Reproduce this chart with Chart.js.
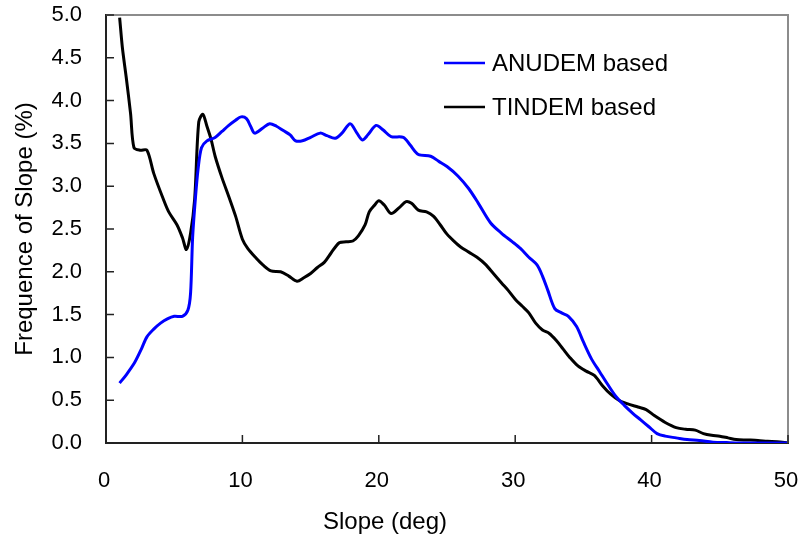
<!DOCTYPE html>
<html lang="en">
<head>
<meta charset="UTF-8">
<title>Slope frequency</title>
<script src="https://cdn.jsdelivr.net/npm/chart.js"></script>
<style>
  html, body { margin: 0; padding: 0; background: #fff; }
  #wrap { width: 798px; height: 537px; }
</style>
</head>
<body>
<div id="wrap"><canvas id="slopeChart" width="798" height="537"></canvas></div>
<script>
// ANUDEM based curve (slope deg, frequency %)
const anudemX = [1.0, 1.5, 2.1, 2.6, 3.0, 3.5, 4.0, 4.5, 5.0, 5.6, 6.0, 6.2, 6.35, 6.55, 6.75, 7.0, 7.4, 8.0, 8.5, 9.0,
  9.5, 9.9, 10.3, 10.6, 10.9, 11.5, 12.0, 12.5, 13.0, 13.5, 13.9, 14.4, 15.0, 15.7, 16.2, 16.8, 17.3, 17.9, 18.4, 18.8,
  19.2, 19.8, 20.3, 20.9, 21.8, 22.3, 22.9, 23.8, 24.4, 25.0, 25.8, 26.6, 27.3, 28.2, 29.0, 29.8, 30.4, 31.0, 31.6, 32.0,
  32.4, 32.9, 33.4, 33.9, 34.5, 35.0, 35.6, 36.2, 36.8, 37.4, 38.0, 38.6, 39.2, 39.8, 40.4, 41.0, 41.8, 42.6, 43.5, 44.5,
  45.5, 47.0, 50.0];
const anudemY = [0.70, 0.80, 0.94, 1.10, 1.24, 1.33, 1.40, 1.45, 1.48, 1.48, 1.55, 1.75, 2.40, 2.85, 3.20, 3.45, 3.53, 3.57, 3.64, 3.71,
  3.77, 3.81, 3.79, 3.70, 3.62, 3.68, 3.73, 3.70, 3.65, 3.60, 3.53, 3.53, 3.57, 3.62, 3.59, 3.56, 3.62, 3.73, 3.62, 3.54,
  3.60, 3.71, 3.66, 3.58, 3.57, 3.48, 3.37, 3.35, 3.29, 3.23, 3.12, 2.97, 2.80, 2.57, 2.45, 2.35, 2.27, 2.17, 2.08, 1.95,
  1.78, 1.57, 1.52, 1.48, 1.36, 1.18, 0.98, 0.83, 0.68, 0.54, 0.44, 0.35, 0.27, 0.19, 0.11, 0.08, 0.06, 0.04, 0.03, 0.01,
  0.005, 0.0, 0.0];

// TINDEM based curve
const tindemX = [1.0, 1.2, 1.5, 1.8, 2.05, 2.5, 3.0, 3.5, 4.2, 4.6, 5.2, 5.6, 5.9, 6.2, 6.5, 6.8, 7.1, 7.4, 7.7, 8.0,
  8.5, 9.0, 9.5, 10.0, 10.4, 11.0, 11.5, 12.1, 12.8, 13.4, 14.0, 14.5, 15.0, 15.5, 16.0, 16.5, 17.1, 17.6, 18.1, 18.5,
  19.0, 19.3, 19.7, 20.0, 20.4, 20.9, 21.5, 22.0, 22.4, 22.9, 23.5, 24.0, 24.5, 25.0, 25.5, 26.0, 26.6, 27.2, 27.8, 28.4,
  29.0, 29.5, 30.0, 30.5, 31.0, 31.5, 32.0, 32.5, 33.0, 33.5, 34.0, 34.6, 35.2, 35.8, 36.4, 37.0, 37.6, 38.2, 39.0, 39.6,
  40.2, 41.0, 41.8, 42.5, 43.2, 43.8, 44.4, 45.0, 45.6, 46.2, 47.0, 47.8, 48.5, 49.2, 50.0];
const tindemY = [4.97, 4.62, 4.25, 3.85, 3.45, 3.42, 3.42, 3.15, 2.85, 2.70, 2.55, 2.40, 2.26, 2.45, 2.85, 3.75, 3.84, 3.70, 3.55, 3.35,
  3.10, 2.88, 2.65, 2.38, 2.27, 2.16, 2.08, 2.01, 2.00, 1.95, 1.89, 1.93, 1.98, 2.05, 2.11, 2.22, 2.34, 2.35, 2.36, 2.42,
  2.55, 2.70, 2.78, 2.83, 2.78, 2.68, 2.75, 2.82, 2.80, 2.72, 2.70, 2.65, 2.55, 2.44, 2.36, 2.29, 2.23, 2.17, 2.09, 1.98,
  1.87, 1.78, 1.68, 1.60, 1.52, 1.40, 1.32, 1.28, 1.20, 1.10, 1.00, 0.90, 0.84, 0.79, 0.67, 0.57, 0.50, 0.46, 0.42, 0.39,
  0.32, 0.24, 0.18, 0.16, 0.15, 0.11, 0.09, 0.08, 0.06, 0.04, 0.035, 0.03, 0.02, 0.015, 0.0];

const xTicks = [0, 10, 20, 30, 40, 50];
const yTicks = [0, 0.5, 1.0, 1.5, 2.0, 2.5, 3.0, 3.5, 4.0, 4.5, 5.0];
const xTitle = 'Slope (deg)';

function toPoints(xs, ys) {
  return xs.map((x, i) => ({ x: x, y: ys[i] }));
}

const FONT = 'Liberation Sans, Arial, sans-serif';

// inward tick marks, grey top/right frame, x title and in-plot legend
const framePlugin = {
  id: 'frame',
  afterDraw(chart) {
    const ctx = chart.ctx;
    const a = chart.chartArea;
    const xs = chart.scales.x, ys = chart.scales.y;
    ctx.save();
    ctx.strokeStyle = '#8c8c8c';
    ctx.lineWidth = 2;
    ctx.beginPath();
    ctx.moveTo(a.left, a.top);
    ctx.lineTo(a.right, a.top);
    ctx.lineTo(a.right, a.bottom);
    ctx.stroke();

    ctx.strokeStyle = '#222';
    ctx.lineWidth = 1.5;
    ctx.beginPath();
    xTicks.forEach(v => {
      const px = xs.getPixelForValue(v);
      ctx.moveTo(px, a.bottom);
      ctx.lineTo(px, a.bottom - 8);
    });
    yTicks.forEach(v => {
      const py = ys.getPixelForValue(v);
      ctx.moveTo(a.left, py);
      ctx.lineTo(a.left + 8, py);
    });
    ctx.stroke();

    ctx.font = '24px ' + FONT;
    ctx.fillStyle = '#000';
    // x axis title sits left of centre in the original
    ctx.textAlign = 'center';
    ctx.textBaseline = 'middle';
    ctx.fillText(xTitle, 385, 522);

    // legend
    ctx.textAlign = 'left';
    chart.data.datasets.forEach((ds, i) => {
      const y = 63 + i * 44;
      ctx.strokeStyle = ds.borderColor;
      ctx.lineWidth = 2.5;
      ctx.beginPath();
      ctx.moveTo(444, y);
      ctx.lineTo(485, y);
      ctx.stroke();
      ctx.fillText(ds.label, 492, y + 1);
    });
    ctx.restore();
  }
};

new Chart(document.getElementById('slopeChart'), {
  type: 'line',
  data: {
    datasets: [
      {
        label: 'ANUDEM based',
        data: toPoints(anudemX, anudemY),
        borderColor: '#0000ff',
        borderWidth: 3,
        pointRadius: 0,
        tension: 0.3,
        fill: false
      },
      {
        label: 'TINDEM based',
        data: toPoints(tindemX, tindemY),
        borderColor: '#000000',
        borderWidth: 3,
        pointRadius: 0,
        tension: 0.3,
        fill: false
      }
    ]
  },
  options: {
    responsive: false,
    animation: false,
    devicePixelRatio: 1,
    layout: { padding: { top: 15, right: 10, left: 0, bottom: 0 } },
    plugins: {
      legend: { display: false },
      tooltip: { enabled: false }
    },
    scales: {
      x: {
        type: 'linear',
        min: 0,
        max: 50,
        afterBuildTicks: s => { s.ticks = xTicks.map(v => ({ value: v })); },
        afterFit: s => { s.height = 94; s.paddingLeft = 0; s.paddingRight = 0; },
        grid: { display: false, drawTicks: false },
        border: { display: true, color: '#222', width: 2 },
        ticks: { color: '#000', padding: 25, labelOffset: -2, font: { family: FONT, size: 22 } },
        title: { display: false }
      },
      y: {
        type: 'linear',
        min: 0,
        max: 5,
        afterBuildTicks: s => { s.ticks = yTicks.map(v => ({ value: v })); },
        afterFit: s => { s.width = 106; s.paddingTop = 0; s.paddingBottom = 0; },
        grid: { display: false, drawTicks: false },
        border: { display: true, color: '#222', width: 2 },
        ticks: {
          color: '#000',
          padding: 24,
          font: { family: FONT, size: 22 },
          callback: v => v.toFixed(1)
        },
        title: {
          display: true,
          text: 'Frequence of Slope (%)',
          color: '#000',
          padding: { top: 11, bottom: 0 },
          font: { family: FONT, size: 24 }
        }
      }
    }
  },
  plugins: [framePlugin]
});
</script>
</body>
</html>
